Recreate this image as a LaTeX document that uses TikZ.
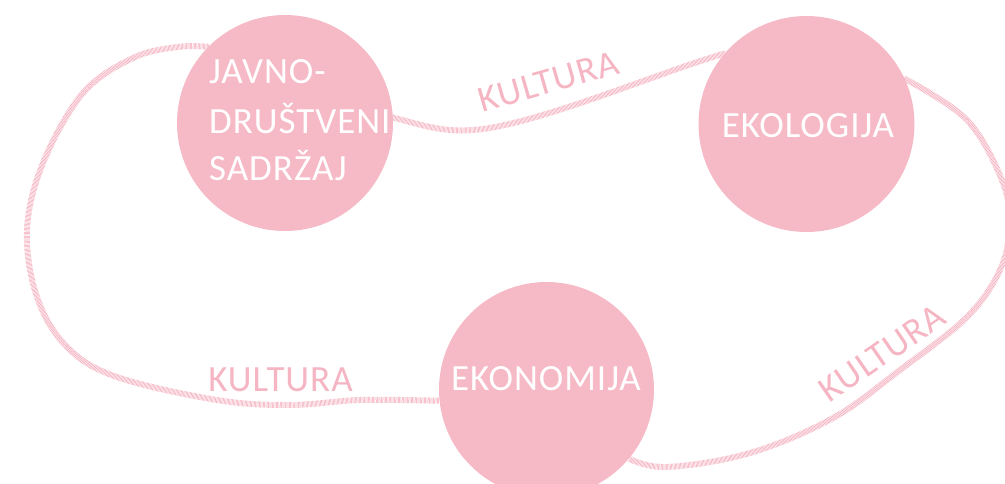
\documentclass[tikz,border=0pt]{standalone}
\usepackage{fontspec}
\setmainfont{Carlito}[LetterSpace=2.6]
\definecolor{circpink}{HTML}{F6B9C6}
\definecolor{ribpink}{HTML}{F2A3B6}
\definecolor{labpink}{HTML}{F5B5C3}
\begin{document}
\begin{tikzpicture}[x=1pt,y=-1pt,
  bubble/.style={circle,fill=circpink,draw=none,minimum size=215pt,inner sep=0pt},
  ribbon/.style={draw=ribpink,line width=6pt,dash pattern=on 0.5pt off 0.8pt},
  intext/.style={text=white,font=\fontsize{37}{44}\selectfont,inner sep=0pt},
  kult/.style={text=labpink,font=\fontsize{37}{44}\selectfont,inner sep=0pt,anchor=base}]
\useasboundingbox (0,0) rectangle (1005,483);
% circle centres and (unfilled) named circle nodes for the connectors
\path (285,123) coordinate (Ac);
\path (806.5,124) coordinate (Bc);
\path (546.5,389.5) coordinate (Cc);
\node[bubble,fill=none] (A) at (Ac) {};
\node[bubble,fill=none] (B) at (Bc) {};
\node[bubble,fill=none] (C) at (Cc) {};
% ribbons
\draw[ribbon] (A.3) .. controls (425,126) and (442,132) .. (472,130)
  .. controls (532,127) and (665,70) .. (B.139);
\draw[ribbon] plot[smooth,tension=0.6] coordinates {(A.135) (177,47) (133,58) (83,93) (43,163) (27,230) (37,297) (67,347) (117,377) (217,400) (290,405) (360,400) (C.186)};
\draw[ribbon] plot[smooth,tension=0.6] coordinates {(B.25) (967,120) (1003,183) (1009,228) (1000,270) (967,317) (900,370) (833,418) (750,453) (667,467) (C.-40)};
% filled circles
\fill[circpink] (Ac) circle (108);
\fill[circpink] (Bc) circle (108);
\fill[circpink] (Cc) circle (107.5);
% texts
\node[intext,anchor=base west] (a1) at (209,83) {JAVNO-};
\node[intext,anchor=base west] (a2) at (209,133) {DRUŠTVENI};
\node[intext,anchor=base west] (a3) at (209,180) {SADRŽAJ};
\node[intext,anchor=base] (bt) at (808,137) {EKOLOGIJA};
\node[intext,anchor=base] (ct) at (546,390) {EKONOMIJA};
\node[kult,rotate=16] (k1) at (552,93) {KULTURA};
\node[kult] (k2) at (280.5,391) {KULTURA};
\node[kult,rotate=34.5] (k3) at (889,363) {KULTURA};
\end{tikzpicture}
\end{document}
